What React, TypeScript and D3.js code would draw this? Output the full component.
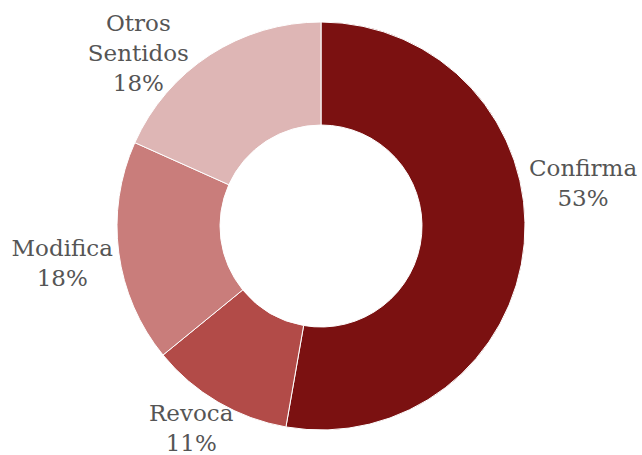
import * as React from "react";
import * as d3 from "d3";

const categories = ["Confirma", "Revoca", "Modifica", "Otros Sentidos"];
const values = [52.75, 11.35, 17.6, 18.3];
const labelNames = [["Confirma"], ["Revoca"], ["Modifica"], ["Otros", "Sentidos"]];
const colors = ["#7b1111", "#b24b48", "#c97d7b", "#deb6b5"];

// nudges to mimic the spreadsheet's "best fit" label placement
const labelNudge = [
  { dx: 8, dy: -65 },
  { dx: -1, dy: -18 },
  { dx: -6, dy: 3 },
  { dx: -44, dy: 41 },
];

export default function App() {
  const width = 642;
  const height = 455;
  const cx = 321;
  const cy = 226;
  const outerR = 204;
  const innerR = 101;
  const labelR = 255;
  const lineH = 30;

  const pie = d3.pie<number>().sort(null).value((d) => d);
  const arcs = pie(values);
  const arc = d3.arc<d3.PieArcDatum<number>>().innerRadius(innerR).outerRadius(outerR);
  const total = d3.sum(values);

  return (
    <svg width={width} height={height} style={{ position: "absolute", left: 0, top: 0 }}>
      <rect width={width} height={height} fill="#fff" />
      <g transform={"translate(" + cx + "," + cy + ")"}>
        {arcs.map((a, i) => (
          <path key={categories[i]} d={arc(a) || ""} fill={colors[i]} stroke="#fff" strokeWidth={1} />
        ))}
        {arcs.map((a, i) => {
          const mid = (a.startAngle + a.endAngle) / 2;
          const x = Math.sin(mid) * labelR + labelNudge[i].dx;
          const y = -Math.cos(mid) * labelR + labelNudge[i].dy;
          const lines = [...labelNames[i], Math.round((values[i] / total) * 100) + "%"];
          const top = y - ((lines.length - 1) * lineH) / 2;
          return (
            <text
              key={"l" + i}
              x={x}
              textAnchor="middle"
              fontFamily="'DejaVu Serif', serif"
              fontSize={23}
              fill="#555555"
            >
              {lines.map((t, j) => (
                <tspan key={j} x={x} y={top + j * lineH} dominantBaseline="central">
                  {t}
                </tspan>
              ))}
            </text>
          );
        })}
      </g>
    </svg>
  );
}
